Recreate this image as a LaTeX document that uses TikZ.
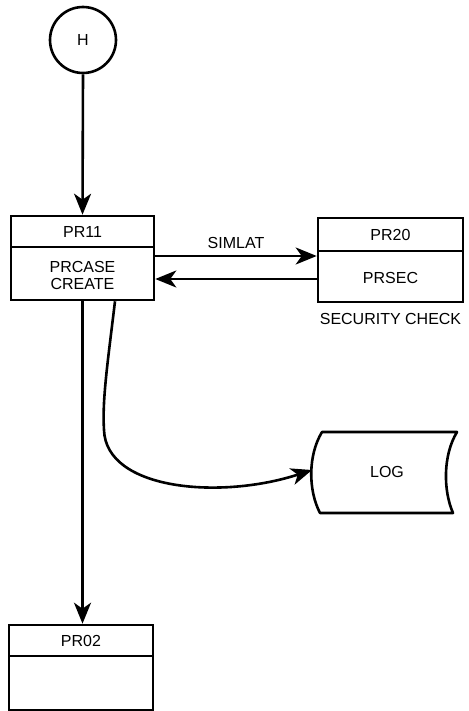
\documentclass[tikz,border=0pt]{standalone}
\usepackage{fontspec}
\setmainfont{Liberation Sans}
\usetikzlibrary{arrows.meta,calc}
\begin{document}
\begin{tikzpicture}[x=1pt,y=-1pt,
  ln/.style={line width=2.6pt,black},
  arr/.style={ln,-{Stealth[length=21pt,width=17pt,inset=6pt]}},
  box/.style={ln,draw,rectangle,inner sep=0pt},
  lbl/.style={font=\fontsize{16}{17}\selectfont,inner sep=0pt,align=center}]
\useasboundingbox[fill=white] (0,0) rectangle (468,711);
% start connector
\node[ln,draw,circle,minimum size=66pt,inner sep=0pt,lbl] (h) at (83,40) {H};
% PR11
\node[box,minimum width=143pt,minimum height=84pt] (pr11) at (82.5,258) {};
\draw[ln] (11,247) -- (154,247);
\node[lbl] (pr11t) at (82.5,232) {PR11};
\node[lbl] (pr11b) at (82.5,275) {PRCASE\\CREATE};
% PR20
\node[box,minimum width=145pt,minimum height=84pt] (pr20) at (390.5,260) {};
\draw[ln] (318,251) -- (463,251);
\node[lbl] (pr20t) at (390.5,235) {PR20};
\node[lbl] (pr20b) at (390.5,278) {PRSEC};
\node[lbl] (sec) at (390.5,319) {SECURITY CHECK};
% PR02
\node[box,minimum width=144pt,minimum height=85pt] (pr02) at (81,667.5) {};
\draw[ln] (9,656) -- (153,656);
\node[lbl] (pr02t) at (81,641) {PR02};
% LOG
\node[lbl,minimum width=130pt,minimum height=81pt] (log) at (385,472.5) {};
\node[lbl] (logt) at (387,472) {LOG};
\draw[ln,line join=round] (322,432) -- (457,432)
  .. controls (443,455) and (443,490) .. (453,513)
  -- (320,513)
  .. controls (308,490) and (308,455) .. (322,432) -- cycle;
% connectors
\draw[arr] (h.south) -- (pr11.north);
\draw[arr] ([yshift=2pt]pr11.east) -- node[lbl,above=6pt] (simlat) {SIMLAT} ([yshift=2pt]pr11.east -| pr20.west);
\draw[arr] ([yshift=-21pt]pr11.east -| pr20.west) -- ([yshift=-21pt]pr11.east);
\draw[arr] (pr11.south) -- (pr02.north -| pr11.south);
\coordinate (cs) at ($(pr11.south)+(32.5,0)$);
\coordinate (cm) at (104,430);
\draw[arr] (cs) .. controls (108,360) and (102,400) .. (cm)
  .. controls (106,490) and (220,500) .. (312,470);
\end{tikzpicture}
\end{document}
